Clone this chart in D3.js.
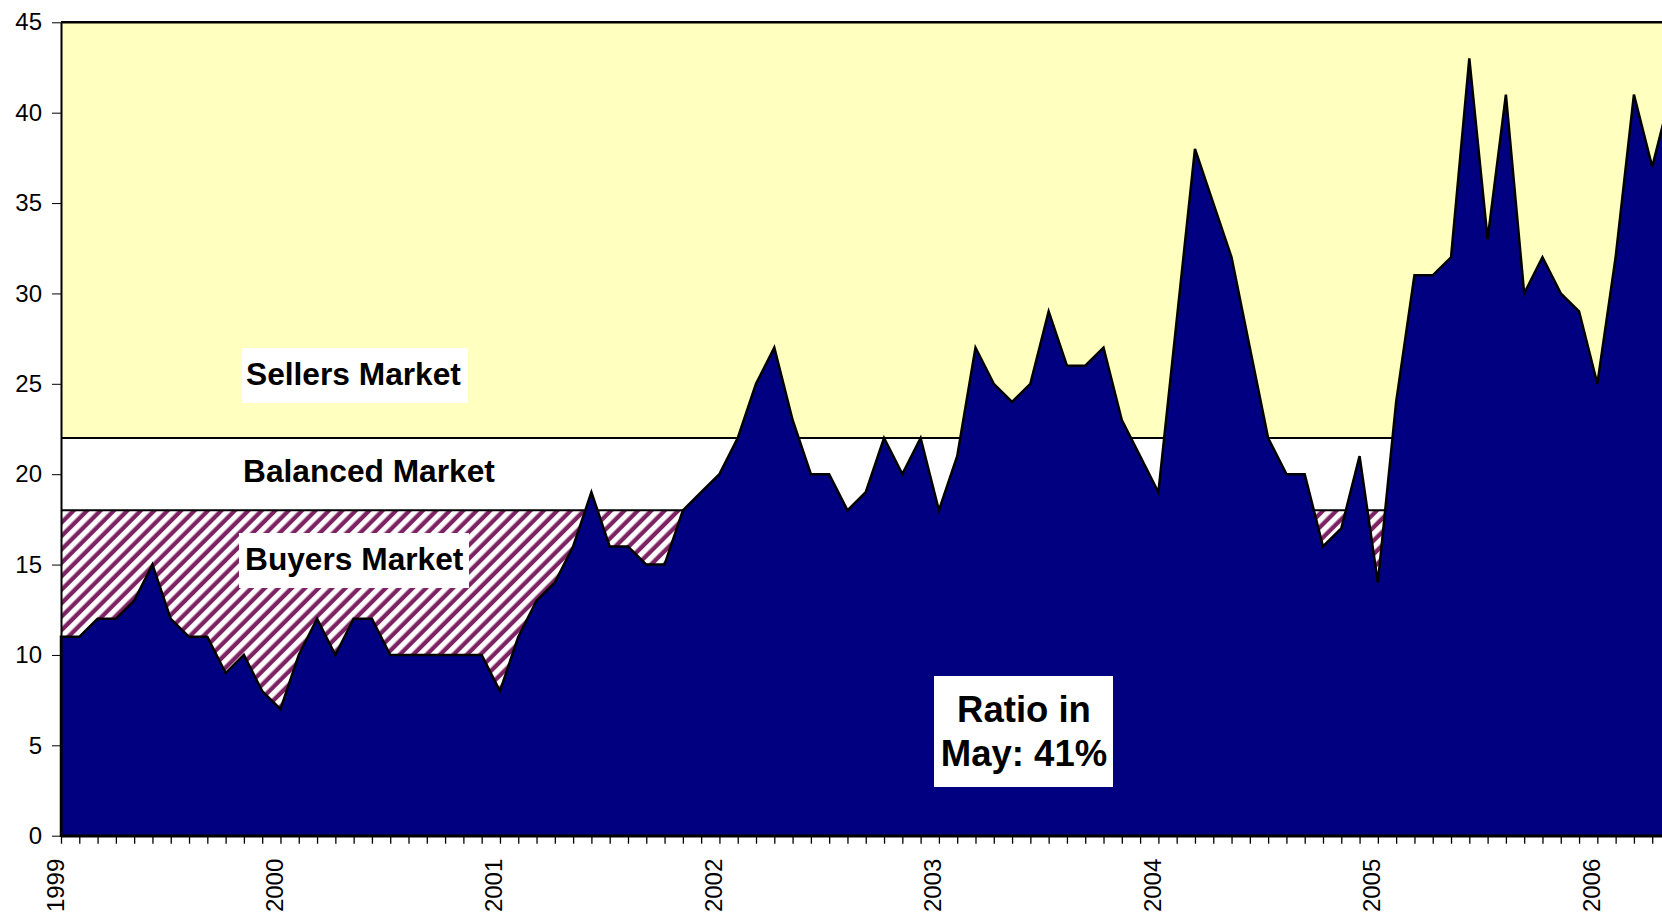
<!DOCTYPE html>
<html>
<head>
<meta charset="utf-8">
<script src="https://cdn.jsdelivr.net/npm/d3@7"></script>
<style>
  body { margin: 0; background: #fff; overflow: hidden; }
  svg { display: block; font-family: "Liberation Sans", Arial, sans-serif; }
</style>
</head>
<body>
<svg id="drawing_region"></svg>
<script>
// monthly ratio, Jan 1999 .. May 2006
const ratio = [
  11, 11, 12, 12, 13, 15, 12, 11, 11, 9, 10, 8,      // 1999
  7, 10, 12, 10, 12, 12, 10, 10, 10, 10, 10, 10,     // 2000
  8, 11, 13, 14, 16, 19, 16, 16, 15, 15, 18, 19,     // 2001
  20, 22, 25, 27, 23, 20, 20, 18, 19, 22, 20, 22,    // 2002
  18, 21, 27, 25, 24, 25, 29, 26, 26, 27, 23, 21,    // 2003
  19, 28.5, 38, 35, 32, 27, 22, 20, 20, 16, 17, 21,  // 2004
  14, 24, 31, 31, 32, 43, 33, 41, 30, 32, 30, 29,    // 2005
  25, 32, 41, 37, 41                                 // 2006
];
const yearLabels = ["1999", "2000", "2001", "2002", "2003", "2004", "2005", "2006"];
const yTicks = [0, 5, 10, 15, 20, 25, 30, 35, 40, 45];
const bandLimits = [0, 18, 22, 45];
const bandNames = ["Buyers Market", "Balanced Market", "Sellers Market"];
const noteLines = ["Ratio in", "May: 41%"];

class MarketChart {

    constructor( config, data ) {
        this.config = {
            parent: config.parent,
            width: config.width || 1662,
            height: config.height || 917,
            margin: config.margin || {top:10, right:10, bottom:10, left:10}
        }
        this.data = data;
        this.init();
    }

    init() {
        let self = this;
        const m = self.config.margin;
        self.inner_width = self.config.width - m.left - m.right;
        self.inner_height = self.config.height - m.top - m.bottom;

        self.svg = d3.select( self.config.parent )
            .attr('width', self.config.width)
            .attr('height', self.config.height);

        // hatch for the buyers band
        const pat = self.svg.append('defs').append('pattern')
            .attr('id', 'hatch')
            .attr('patternUnits', 'userSpaceOnUse')
            .attr('width', 9.5)
            .attr('height', 9.5)
            .attr('patternTransform', 'rotate(45)');
        pat.append('rect').attr('width', 9.5).attr('height', 9.5).attr('fill', '#fff');
        pat.append('rect').attr('x', 0.5).attr('width', 4.3).attr('height', 9.5).attr('fill', '#7d2262');

        self.chart = self.svg.append('g')
            .attr('transform', `translate(${m.left}, ${m.top})`);

        self.xscale = d3.scaleLinear()
            .domain([0, self.data.length - 1])
            .range([0, self.inner_width]);

        self.yscale = d3.scaleLinear()
            .domain([0, 45])
            .range([self.inner_height, 0]);
    }

    update() {
        let self = this;
        self.render();
    }

    render() {
        let self = this;
        const x = self.xscale, y = self.yscale;
        const fills = ['url(#hatch)', '#ffffff', '#ffffc0'];

        // background bands
        self.chart.selectAll('.band')
            .data( d3.range(3) )
            .enter()
            .append('rect')
            .attr('class', 'band')
            .attr('x', 0)
            .attr('y', i => y(bandLimits[i+1]))
            .attr('width', self.inner_width)
            .attr('height', i => y(bandLimits[i]) - y(bandLimits[i+1]))
            .attr('fill', i => fills[i]);

        self.chart.selectAll('.limit')
            .data( bandLimits.slice(1) )
            .enter()
            .append('line')
            .attr('x1', 0)
            .attr('x2', self.inner_width)
            .attr('y1', d => y(d))
            .attr('y2', d => y(d))
            .attr('stroke', '#000')
            .attr('stroke-width', d => d == 45 ? 2.5 : 2);

        // the ratio area
        const area = d3.area()
            .x( (d, i) => x(i) )
            .y0( y(0) )
            .y1( d => y(d) );

        self.chart.append('path')
            .datum( self.data )
            .attr('d', area)
            .attr('fill', '#000080')
            .attr('stroke', '#000')
            .attr('stroke-width', 2.5);

        // axes
        const yaxis = self.chart.append('g')
            .call( d3.axisLeft(y).tickValues(yTicks).tickSize(9).tickSizeOuter(0).tickPadding(10) );
        yaxis.selectAll('text').attr('font-size', 24).attr('fill', '#000');
        yaxis.select('.domain').attr('stroke-width', 2);

        const xaxis = self.chart.append('g')
            .attr('transform', `translate(0, ${self.inner_height})`)
            .call( d3.axisBottom(x).tickValues(d3.range(self.data.length)).tickSize(8).tickSizeOuter(0).tickFormat('') );
        xaxis.select('.domain').attr('stroke-width', 2.5);
        xaxis.selectAll('.tick line').attr('stroke-width', 1.3);

        self.chart.selectAll('.year')
            .data( yearLabels )
            .enter()
            .append('text')
            .attr('transform', (d, i) => `translate(${x(i*12) + 2.5}, ${self.inner_height + 23}) rotate(-90)`)
            .attr('text-anchor', 'end')
            .attr('font-size', 24)
            .text( d => d );

        // band labels
        const boxes = [
            {x: 239, y: 533, w: 230, h: 55, tx: 245, ty: 570},
            {x: 0, y: 0, w: 0, h: 0, tx: 243, ty: 482},
            {x: 242, y: 348, w: 226, h: 55, tx: 246, ty: 385}
        ];
        const labels = self.svg.append('g');
        boxes.forEach( (b, i) => {
            if (b.w > 0) {
                labels.append('rect')
                    .attr('x', b.x).attr('y', b.y)
                    .attr('width', b.w).attr('height', b.h)
                    .attr('fill', '#fff');
            }
            labels.append('text')
                .attr('x', b.tx).attr('y', b.ty)
                .attr('font-size', 31.7)
                .attr('font-weight', 'bold')
                .text( bandNames[i] );
        });

        labels.append('rect')
            .attr('x', 934).attr('y', 676)
            .attr('width', 179).attr('height', 111)
            .attr('fill', '#fff');
        labels.selectAll('.note')
            .data( noteLines )
            .enter()
            .append('text')
            .attr('x', 1024)
            .attr('y', (d, i) => 722 + i*44)
            .attr('text-anchor', 'middle')
            .attr('font-size', 36.5)
            .attr('font-weight', 'bold')
            .text( d => d );
    }
}

const config = {
    parent: '#drawing_region',
    width: 1662,
    height: 917,
    margin: {top:22.3, right:-8.5, bottom:81.3, left:61}
};
const chart = new MarketChart( config, ratio );
chart.update();
</script>
</body>
</html>
